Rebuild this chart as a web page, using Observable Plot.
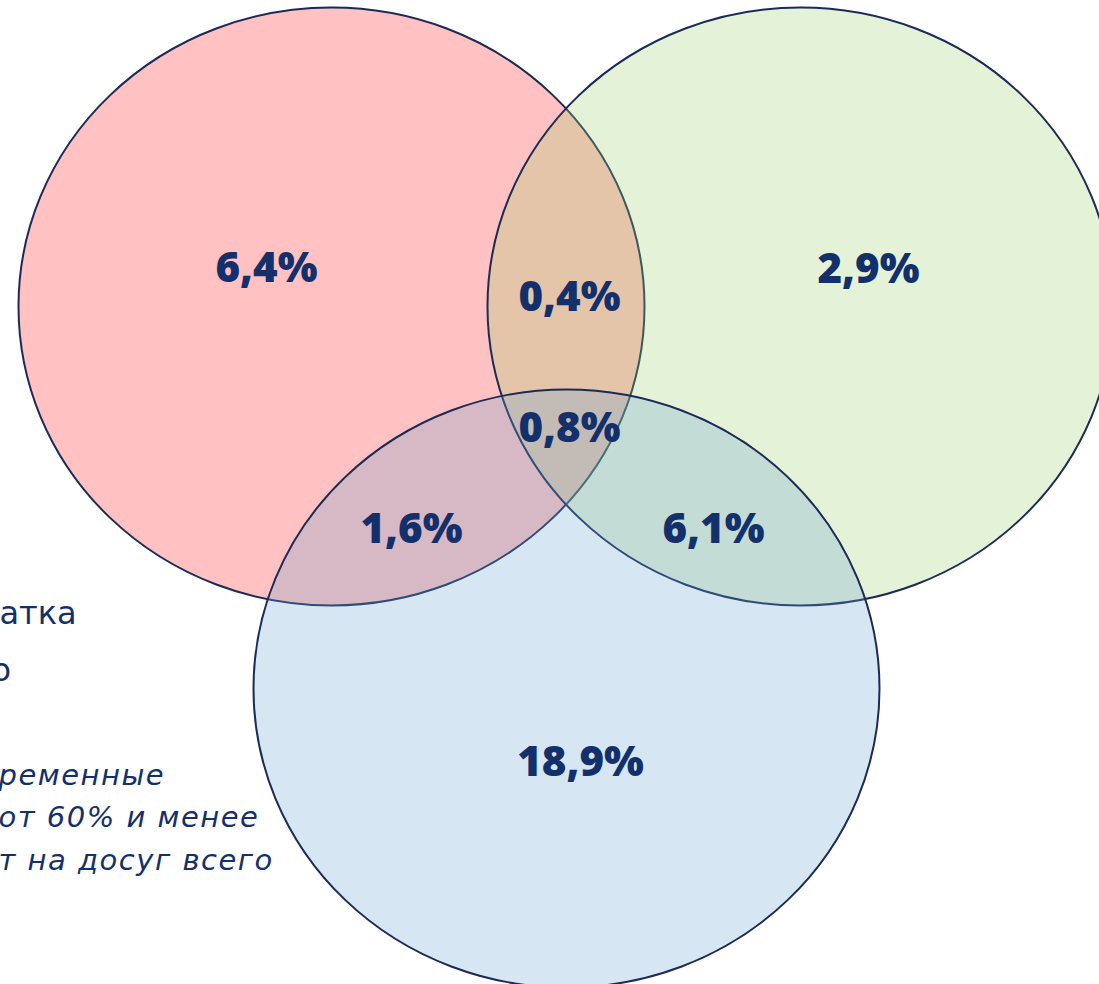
<!DOCTYPE html>
<html><head><meta charset="utf-8">
<script src="https://cdn.jsdelivr.net/npm/d3@7"></script>
<script src="https://cdn.jsdelivr.net/npm/@observablehq/plot@0.6"></script>
<style>html,body{margin:0;padding:0;background:#fff;overflow:hidden}</style>
</head><body><div id="chart"></div>
<script>
// ---- data ----
const sets = ["A", "B", "C"];
const regionNames = ["A", "A∩B", "B", "A∩B∩C", "A∩C", "B∩C", "C"];
const regionValues = [6.4, 0.4, 2.9, 0.8, 1.6, 6.1, 18.9];
const noteLines = ["атка", "о", "ременные", "от 60% и менее", "т на досуг всего"];

// ---- layout (pixel space) ----
const setCx = [331, 800, 566];
const setCy = [306, 306, 688];
const setColors = ["#FF1919", "#9BD36F", "#6BA2D3"];
const setAlpha = 0.27;
const RX = 313, RY = 299;
const labelX = [266, 569, 868, 569, 411, 713, 580];
const labelY = [268, 297, 269, 428, 529, 529, 762];
const noteX = [-1, -9, -2, -2, -2];
const noteY = [613, 670, 775, 817, 860];
const noteSize = [32, 32, 29, 29, 29];
const noteStyle = ["normal", "normal", "oblique", "oblique", "oblique"];
const navy = "#13306B";

const setData = sets.map((s, i) => ({s, x: setCx[i], y: setCy[i], c: setColors[i]}));
const regionData = regionNames.map((n, i) => ({n, v: regionValues[i], x: labelX[i], y: labelY[i]}));
const noteData = noteLines.map((t, i) => ({t, x: noteX[i], y: noteY[i], fs: noteSize[i], st: noteStyle[i]}));
const fmt = v => v.toFixed(1).replace(".", ",") + "%";

const chart = Plot.plot({
  width: 1099, height: 984, margin: 0,
  x: {domain: [0, 1099], range: [0, 1099], axis: null},
  y: {domain: [0, 984], range: [0, 984], axis: null},
  r: {type: "identity"},
  style: {background: "#fff"},
  marks: [
    ...noteData.map(d => Plot.text([d], {x: "x", y: "y", text: "t", textAnchor: "start",
      fontSize: d.fs, fontStyle: d.st, fontFamily: "DejaVu Sans", fill: navy})),
    Plot.dot(setData, {x: "x", y: "y", r: RX, fill: "c", fillOpacity: setAlpha, stroke: "#1B2B55", strokeWidth: 2}),
    Plot.text(regionData, {x: "x", y: "y", text: d => fmt(d.v), fontSize: 42, fontWeight: 800,
      fontFamily: "Open Sans", fill: navy})
  ]
});
// make circles slightly elliptical like the reference
chart.querySelectorAll("g[aria-label='dot'] circle").forEach(c => {
  const cx = +c.getAttribute("cx"), cy = +c.getAttribute("cy");
  c.setAttribute("transform", `translate(${cx},${cy}) scale(1,${RY / RX}) translate(${-cx},${-cy})`);
});
// wider tracking for the italic note lines
chart.querySelectorAll("g[font-style='oblique']").forEach(g => g.setAttribute("letter-spacing", "1.5px"));
document.getElementById("chart").append(chart);
</script>
</body></html>
